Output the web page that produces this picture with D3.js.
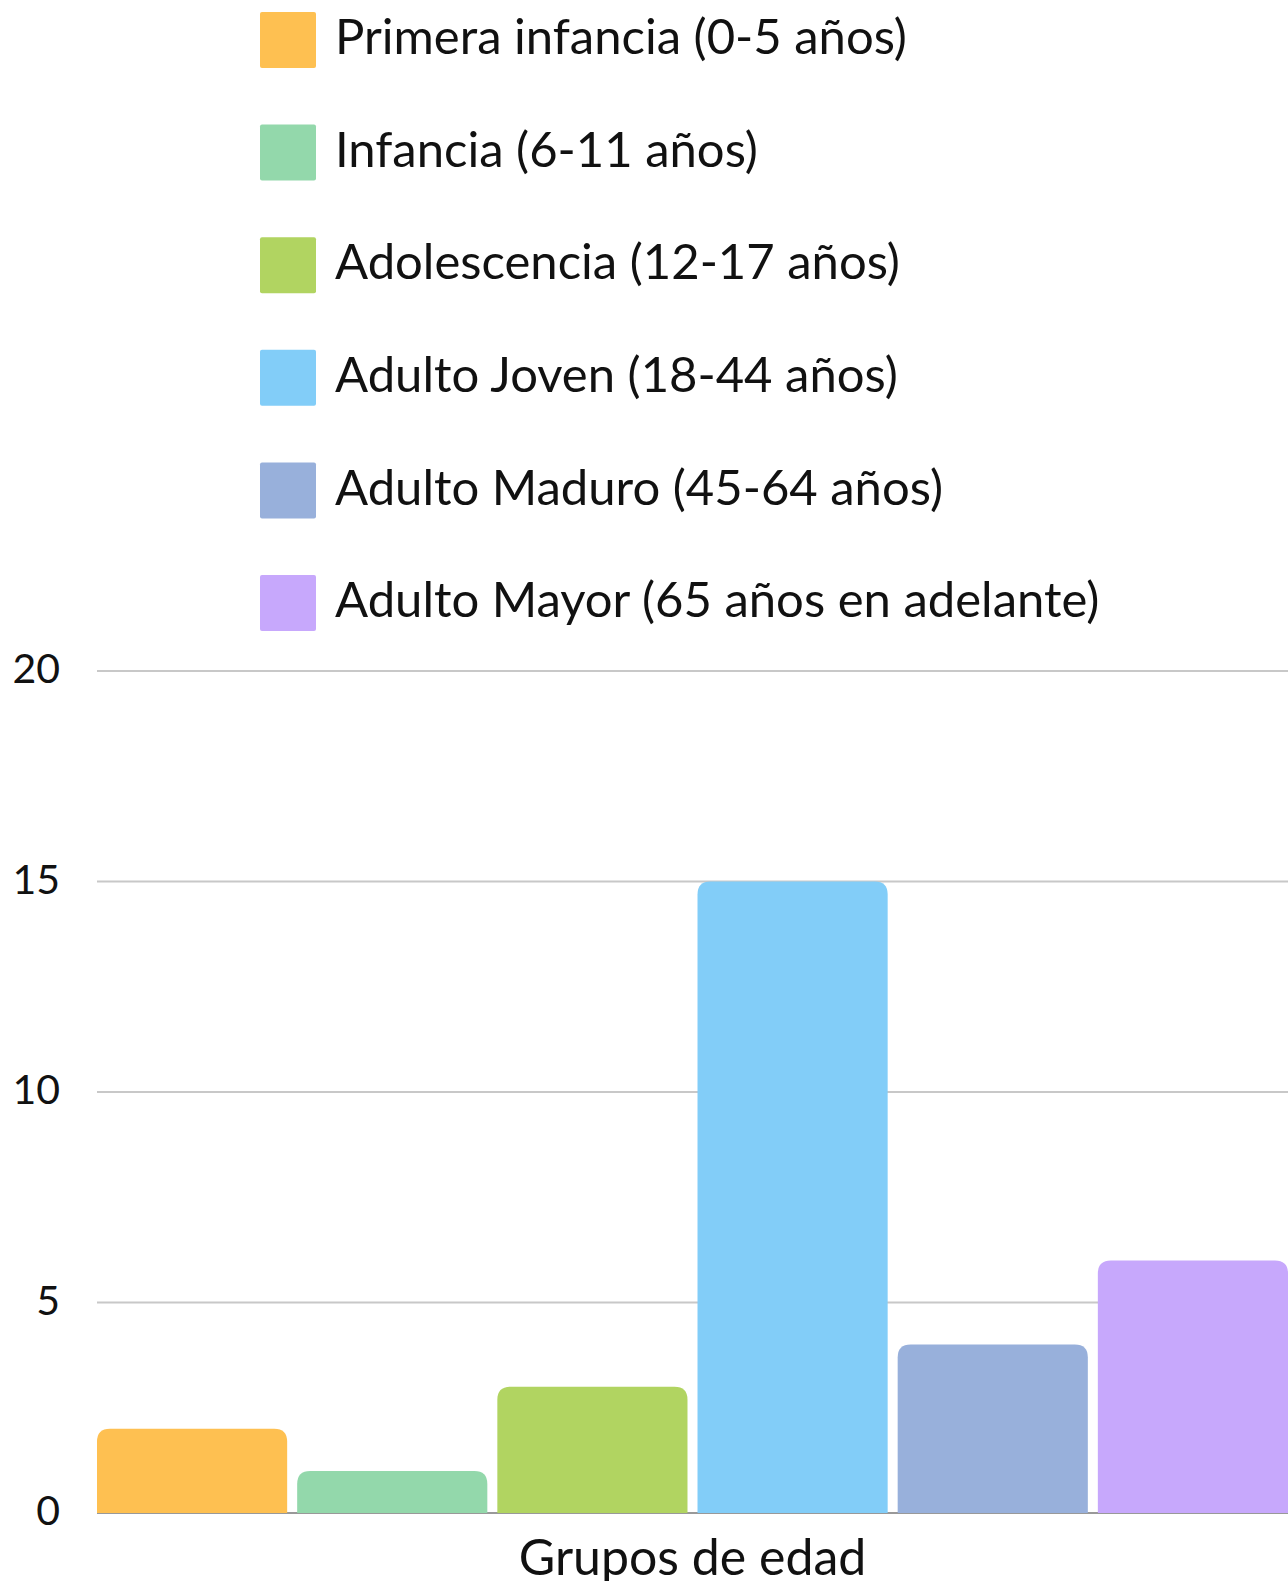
<!DOCTYPE html>
<html>
<head>
<meta charset="utf-8">
<script src="https://cdn.jsdelivr.net/npm/d3@7"></script>
<style>
  html, body { margin: 0; padding: 0; background: #fff; }
  svg { display: block; }
  text { font-family: Lato, "Open Sans", sans-serif; fill: #111; }
</style>
</head>
<body>
<script>
// Data: people per age group
var groups = ["Primera infancia (0-5 años)",
              "Infancia (6-11 años)",
              "Adolescencia (12-17 años)",
              "Adulto Joven (18-44 años)",
              "Adulto Maduro (45-64 años)",
              "Adulto Mayor (65 años en adelante)"];
var counts = [2, 1, 3, 15, 4, 6];
var colors = ["#fec051", "#93d8ab", "#b1d461", "#82cdf8", "#98b0db", "#c7a8fc"];
var yTicks = [0, 5, 10, 15, 20];
var xTitle = "Grupos de edad";

var width = 1288,
    height = 1581;
var margin = {top: 671, right: 0, bottom: 68, left: 97};

var svg = d3.select("body").append("svg")
    .attr("width", width)
    .attr("height", height);

var x = d3.scaleBand()
    .domain(groups)
    .range([margin.left, width - margin.right])
    .paddingInner(0.05)
    .paddingOuter(0);

var y = d3.scaleLinear()
    .domain([0, 20])
    .range([height - margin.bottom, margin.top]);

// gridlines (behind the bars)
svg.append("g")
    .selectAll("line")
    .data(yTicks.filter(function(d) { return d > 0; }))
    .enter().append("line")
      .attr("x1", margin.left)
      .attr("x2", width - margin.right)
      .attr("y1", function(d) { return y(d); })
      .attr("y2", function(d) { return y(d); })
      .attr("stroke", "#c8c8c8")
      .attr("stroke-width", 2);

// baseline
svg.append("line")
    .attr("x1", margin.left)
    .attr("x2", width - margin.right)
    .attr("y1", y(0))
    .attr("y2", y(0))
    .attr("stroke", "#999999")
    .attr("stroke-width", 2);

// y axis labels
var yAxis = d3.axisLeft(y).tickValues(yTicks).tickSize(0).tickPadding(0);
svg.append("g")
    .attr("transform", "translate(60,-3)")
    .call(yAxis)
    .call(function(g) { g.select(".domain").remove(); })
    .selectAll("text")
      .style("font-family", "Lato, sans-serif")
      .style("font-size", "41px")
      .attr("fill", "#111")
      .attr("dy", "0.36em");

// bars: rounded top corners, square bottom
var r = 13;
function barPath(d, i) {
  var x0 = x(groups[i]), x1 = x0 + x.bandwidth();
  var yt = y(d), yb = y(0);
  var rr = Math.min(r, (yb - yt));
  return "M" + x0 + "," + yb +
         "L" + x0 + "," + (yt + rr) +
         "Q" + x0 + "," + yt + " " + (x0 + rr) + "," + yt +
         "L" + (x1 - rr) + "," + yt +
         "Q" + x1 + "," + yt + " " + x1 + "," + (yt + rr) +
         "L" + x1 + "," + yb + "Z";
}
svg.append("g")
    .selectAll("path")
    .data(counts)
    .enter().append("path")
      .attr("d", barPath)
      .attr("fill", function(d, i) { return colors[i]; });

// x axis title (cut by the bottom edge, as in the original)
svg.append("text")
    .attr("x", (margin.left + width - margin.right) / 2)
    .attr("y", 1575)
    .attr("text-anchor", "middle")
    .style("font-size", "50px")
    .text(xTitle);

// legend
var legStep = 112.6;
var leg = svg.append("g")
    .selectAll("g")
    .data(groups)
    .enter().append("g")
      .attr("transform", function(d, i) { return "translate(260," + (12 + i * legStep) + ")"; });
leg.append("rect")
    .attr("width", 56)
    .attr("height", 56)
    .attr("rx", 2)
    .attr("fill", function(d, i) { return colors[i]; });
leg.append("text")
    .attr("x", 75)
    .attr("y", 25)
    .attr("dy", "0.35em")
    .style("font-size", "49px")
    .text(function(d) { return d; });
</script>
</body>
</html>
